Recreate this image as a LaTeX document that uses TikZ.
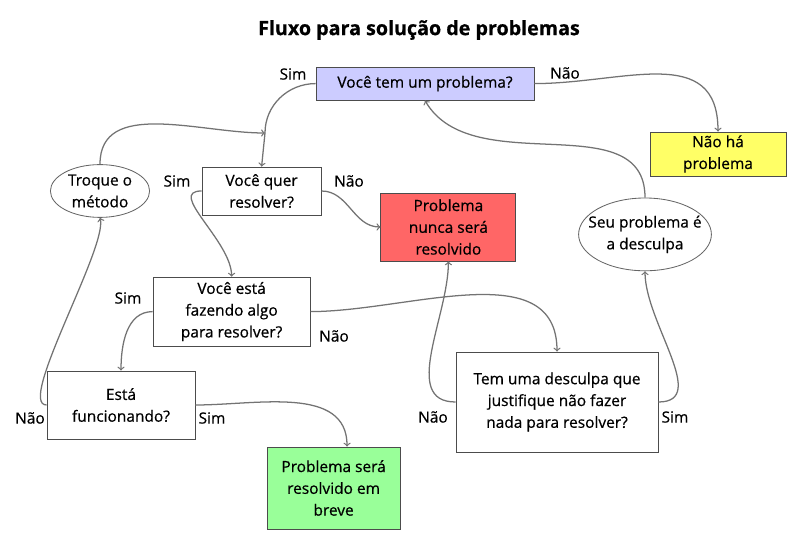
\documentclass[tikz,border=0pt]{standalone}
\usepackage{fontspec}
\setmainfont{Open Sans}[FakeBold=0.6]
\definecolor{azul}{RGB}{204,204,255}
\definecolor{amarelo}{RGB}{255,255,102}
\definecolor{vermelho}{RGB}{255,102,102}
\definecolor{verde}{RGB}{153,255,153}
\begin{document}
\begin{tikzpicture}[
	texto/.style={font=\fontsize{11}{15.5}\selectfont, align=center},
	caixa/.style={texto, draw=black!70, line width=0.6pt, inner sep=0pt},
	balao/.style={texto, inner sep=0pt},
	contorno/.style={draw=black!60, line width=0.6pt},
	rotulo/.style={font=\fontsize{11}{13}\selectfont},
	seta/.style={->, draw=black!55, line width=0.9pt}
]
		\useasboundingbox (0,0) rectangle (20,13.6);

		\draw (10.475,12.85) node[font=\fontsize{14}{16}\selectfont\bfseries] (titulo) {Fluxo para solução de problemas};

		\draw (10.625,11.51) node[caixa, fill=azul, minimum width=5.45cm, minimum height=0.825cm] (problema) {Você tem um problema?};
		\draw (17.95,9.75) node[caixa, fill=amarelo, minimum width=3.4cm, minimum height=1.1cm] (naoha) {Não há\\problema};
		\draw (6.54,8.825) node[caixa, minimum width=2.975cm, minimum height=1.2cm] (quer) {Você quer\\resolver?};
		\draw (11.21,7.925) node[caixa, fill=vermelho, minimum width=3.375cm, minimum height=1.7cm] (nunca) {Problema\\nunca será\\resolvido};
		\draw[contorno] (2.5,8.825) ellipse (1.24 and 0.66) node[balao, minimum width=2.48cm, minimum height=1.32cm] (troque) {Troque o\\método};
		\draw[contorno] (16.125,7.74) ellipse (1.66 and 0.91) node[balao, minimum width=3.32cm, minimum height=1.82cm] (seu) {Seu problema é\\a desculpa};
		\draw (5.79,5.81) node[caixa, minimum width=3.925cm, minimum height=1.725cm] (fazendo) {Você está\\fazendo algo\\para resolver?};
		\draw (3.025,3.475) node[caixa, minimum width=3.7cm, minimum height=1.7cm] (funciona) {Está\\funcionando?};
		\draw (13.925,3.55) node[caixa, minimum width=5.05cm, minimum height=2.5cm] (desculpa) {Tem uma desculpa que\\justifique não fazer\\nada para resolver?};
		\draw (8.34,1.4) node[caixa, fill=verde, minimum width=3.325cm, minimum height=2.05cm] (breve) {Problema será\\resolvido em\\breve};

		\coordinate (juncao) at (6.625,10.275);

		\draw (7.325,11.75) node[rotulo] (simA) {Sim};
		\draw (14.125,11.775) node[rotulo] (naoA) {Não};
		\draw (4.425,9.075) node[rotulo] (simB) {Sim};
		\draw (8.725,9.075) node[rotulo] (naoB) {Não};
		\draw (3.2,6.15) node[rotulo] (simC) {Sim};
		\draw (8.35,5.2) node[rotulo] (naoC) {Não};
		\draw (0.75,3.15) node[rotulo] (naoD) {Não};
		\draw (5.3,3.15) node[rotulo] (simD) {Sim};
		\draw (10.825,3.175) node[rotulo] (naoE) {Não};
		\draw (16.875,3.175) node[rotulo] (simE) {Sim};

		\draw [seta] (problema.west) to[out=180,in=90] (juncao) -- (quer.north);
		\draw [seta] (troque.north) to[out=90,in=180] (juncao);
		\draw [seta] (problema.east) to[out=0,in=90,looseness=1.2] (naoha.north);
		\draw [seta] (quer.west) to[out=180,in=90] (fazendo.north);
		\draw [seta] (quer.east) to[out=0,in=180] (nunca.west);
		\draw [seta] (fazendo.west) to[out=180,in=90] (funciona.north);
		\draw [seta] (fazendo.east) to[out=0,in=90] (desculpa.north);
		\draw [seta] (funciona.west) to[out=180,in=-75,looseness=0.4] (troque.south);
		\draw [seta] (funciona.east) to[out=0,in=90] (breve.72);
		\draw [seta] (desculpa.west) to[out=180,in=-90] (nunca.south);
		\draw [seta] (desculpa.east) to[out=0,in=-90] (seu.south);
		\draw [seta] (seu.north) to[out=90,in=-60] (problema.south);
	\end{tikzpicture}
\end{document}
